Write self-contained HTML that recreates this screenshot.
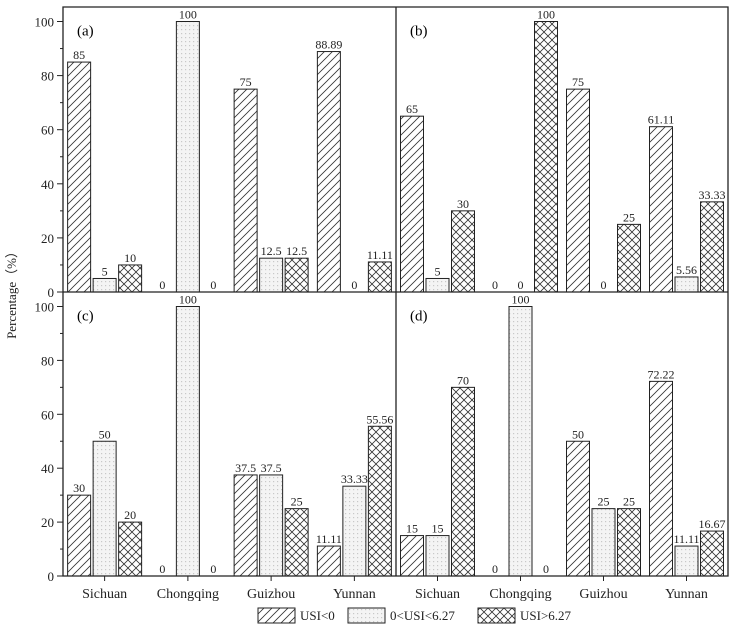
<!DOCTYPE html>
<html><head><meta charset="utf-8"><style>
html,body{margin:0;padding:0;background:#fff}
svg{display:block;font-family:"Liberation Serif",serif}
</style></head><body>
<svg id="chart" width="733" height="634">
<defs>
<pattern id="p0" patternUnits="userSpaceOnUse" width="8" height="8"><path d="M-2,10 L10,-2 M-2,2 L2,-2 M6,10 L10,6" stroke="#333" stroke-width="0.8"/></pattern>
<pattern id="p1" patternUnits="userSpaceOnUse" width="4" height="4"><rect width="4" height="4" fill="#f4f4f4"/><rect x="1" y="1" width="1.2" height="1.2" fill="#c8c8c8"/></pattern>
<pattern id="p2" patternUnits="userSpaceOnUse" width="8" height="8"><path d="M-2,10 L10,-2 M-2,2 L2,-2 M6,10 L10,6 M-2,-2 L10,10 M-2,6 L2,10 M6,-2 L10,2" stroke="#333" stroke-width="0.8"/></pattern>
</defs>
<g id="root"></g>
</svg>
<script>
const categories = ["Sichuan","Chongqing","Guizhou","Yunnan"];
const seriesNames = ["USI<0","0<USI<6.27","USI>6.27"];
const panelLabels = ["(a)","(b)","(c)","(d)"];
const aNeg = [85,0,75,88.89], aMid = [5,100,12.5,0], aHigh = [10,0,12.5,11.11];
const bNeg = [65,0,75,61.11], bMid = [5,0,0,5.56], bHigh = [30,100,25,33.33];
const cNeg = [30,0,37.5,11.11], cMid = [50,100,37.5,33.33], cHigh = [20,0,25,55.56];
const dNeg = [15,0,50,72.22], dMid = [15,100,25,11.11], dHigh = [70,0,25,16.67];
const yTicks = [0,20,40,60,80,100];
const labelText = {"5.56":"5.56"};

const panels=[[aNeg,aMid,aHigh],[bNeg,bMid,bHigh],[cNeg,cMid,cHigh],[dNeg,dMid,dHigh]];
const NS="http://www.w3.org/2000/svg";
const root=document.getElementById('root');
function mk(t,a,p){const e=document.createElementNS(NS,t);for(const k in a)e.setAttribute(k,a[k]);(p||root).appendChild(e);return e;}
const X0=63,XM=396,X1=728;
const Y0top=292,Y100top=21.5,Y0bot=576,Y100bot=306.5;
function yScale(row,v){const z=row?Y0bot:Y0top,h=row?Y100bot:Y100top;return z+(h-z)*v/100;}
function xCenter(col,i){const l=col?XM:X0,r=col?X1:XM;return l+(i+0.5)*(r-l)/4;}
const pitch=25.5,bw=23;
function fmt(v){return String(v);}

panels.forEach((ser,p)=>{
  const row=p>>1,col=p&1;
  const g=mk('g',{});
  
  
  const t=mk('text',{x:(col?XM:X0)+14,y:(row?Y100bot:Y100top)+14,'font-size':15},g);
  t.textContent=panelLabels[p];
  
  
  ser.forEach((vals,s)=>{
    vals.forEach((v,i)=>{
      const cx=xCenter(col,i)+(s-1)*pitch;
      const y=yScale(row,v),y0=yScale(row,0);
      if(v>0){
        const r=mk('rect',{x:cx-bw/2,y:y,width:bw,height:y0-y,fill:'url(#p'+s+')',stroke:'#222','stroke-width':1},g);
        
        
      }
      const lt=mk('text',{x:cx,y:y-3,'font-size':12,'text-anchor':'middle',fill:'#222'},g);
      lt.textContent=fmt(v);
      
      
    });
  });
});
// frames
const f=mk('path',{d:`M${X0},7 H${X1} V${Y0bot} H${X0} Z M${X0},${Y0top} H${X1} M${XM},7 V${Y0bot}`,fill:'none',stroke:'#222','stroke-width':1.3});


// y axis ticks
[0,1].forEach(row=>{
  for(let v=0;v<=100;v+=10){
    const y=yScale(row,v);
    mk('line',{x1:X0,x2:X0-(v%20?3:6),y1:y,y2:y,stroke:'#222','stroke-width':1});
  }
  yTicks.forEach(v=>{
    const t=mk('text',{x:X0-9,y:yScale(row,v)+5,'font-size':13,'text-anchor':'end',fill:'#222'});
    t.textContent=v;
    
    
  });
});
// x labels
[0,1].forEach(col=>{
  categories.forEach((c,i)=>{
    const x=xCenter(col,i);
    mk('line',{x1:x,x2:x,y1:Y0bot,y2:Y0bot+5,stroke:'#222'});
    const t=mk('text',{x:x,y:Y0bot+22,'font-size':14,'text-anchor':'middle',fill:'#222'});
    t.textContent=c;
    
    
  });
});
const yt=mk('text',{x:0,y:0,'font-size':13,'text-anchor':'middle',transform:'translate(16,292) rotate(-90)',fill:'#222'});
yt.textContent='Percentage（%）';


// legend
const lx=[258,348,478];
seriesNames.forEach((n,s)=>{
  const r=mk('rect',{x:lx[s],y:608,width:37,height:15,fill:'url(#p'+s+')',stroke:'#222'});
  
  
  const t=mk('text',{x:lx[s]+42,y:620,'font-size':13,fill:'#222'});
  t.textContent=n;
  
  
});
</script>
</body></html>
